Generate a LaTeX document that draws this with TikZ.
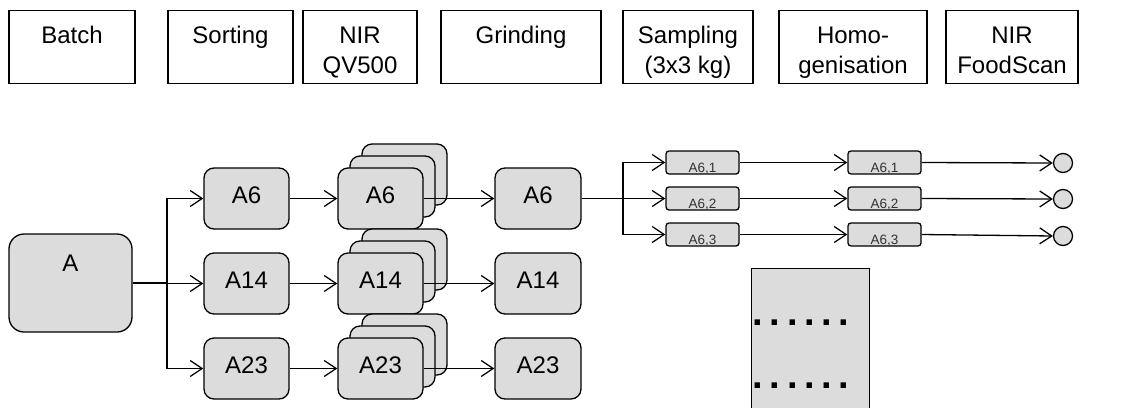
\documentclass[tikz,border=0pt]{standalone}
\usepackage{fontspec}
\setmainfont{Liberation Sans}
\usetikzlibrary{arrows.meta,calc}
\definecolor{boxgray}{HTML}{DCDCDC}
% top-aligned lines for the step headers
\newcommand{\steplines}[1]{\begin{tabular}[t]{@{}c@{}}#1\end{tabular}}

\begin{document}
\begin{tikzpicture}[x=1pt,y=-1pt,line width=1.3pt,
  >={Straight Barb[length=12pt,width=16pt]},
  hdr/.style={draw,fill=white,line width=1.4pt,inner xsep=0pt,inner ysep=6pt,
    text height=27pt,text depth=34pt,anchor=north,
    font=\fontsize{24}{30}\selectfont},
  lot/.style={draw,fill=boxgray,rounded corners=10pt,inner sep=0pt,
    minimum width=85pt,text height=35pt,text depth=26pt,
    font=\fontsize{24}{29}\selectfont},
  sub/.style={draw,fill=boxgray,rounded corners=3pt,inner sep=0pt,
    minimum width=73pt,text height=21pt,text depth=2pt,
    font=\fontsize{13.5}{15}\selectfont,text=black!80},
  tip/.style={draw,fill=boxgray,circle,inner sep=0pt,minimum size=19pt},
  dotrow/.style={anchor=base west,inner sep=0pt,
    font=\fontsize{38}{46}\bfseries\addfontfeature{LetterSpace=17.5}}]
  \useasboundingbox (0,0) rectangle (1131,407);
  % process steps
  \node[hdr,minimum width=126pt] (batch) at (72,10) {\steplines{Batch}};
  \node[hdr,minimum width=125pt] (sort) at (230.5,10) {\steplines{Sorting}};
  \node[hdr,minimum width=114pt] (qv) at (360,10) {\steplines{NIR\\QV500}};
  \node[hdr,minimum width=160pt] (grind) at (521,10) {\steplines{Grinding}};
  \node[hdr,minimum width=130pt] (samp) at (688,10) {\steplines{Sampling\\(3x3 kg)}};
  \node[hdr,minimum width=148pt] (homo) at (853,10) {\steplines{Homo-\\genisation}};
  \node[hdr,minimum width=132pt] (fs) at (1012,10) {\steplines{NIR\\FoodScan}};
  % batch and its lots
  \node[lot,minimum width=123pt,rounded corners=15pt,text height=37pt,text depth=61pt] (A) at (70.5,283) {A};
  \coordinate (fork) at (167,283);
  \draw (A.east) -- (fork);
  \foreach \r/\y in {6/198.5,14/283.5,23/368.5}{
    \node[lot] (s\r) at (246.5,\y) {A\r};
    % stacked scans
    \node[lot] (q\r b) at (404.5,\y-24) {};
    \node[lot] (q\r a) at (392.5,\y-12) {};
    \node[lot] (q\r) at (380.5,\y) {A\r};
    \node[lot,minimum width=86pt] (g\r) at (538,\y) {A\r};
    \draw[->] (fork) |- (s\r.west);
    \draw[->] (s\r.east) -- (q\r.west);
    \draw[->] (q\r.east) -- (g\r.west);
  }
  % sub-samples of A6
  \coordinate (fork2) at (623,198.5);
  \draw (g6.east) -- (fork2);
  \foreach \k/\y/\z in {1/162.5/163,2/198.5/199,3/234.5/236}{
    \node[sub] (p\k) at (702.5,\y) {A6,\k};
    \node[sub] (h\k) at (884.5,\y) {A6,\k};
    \node[tip] (o\k) at (1063,\z) {};
    \draw[->] (fork2) |- (p\k.west);
    \draw[->] (p\k.east) -- (h\k.west);
    \draw[->] (h\k.east) -- (o\k.west);
  }
  % remaining lots
  \node[draw,fill=boxgray,anchor=north west,inner sep=0pt,minimum width=118pt,minimum height=150pt] (more) at (751,268) {};
  \node[dotrow] (dots1) at (752,325) {......};
  \node[dotrow] (dots2) at (752,388) {......};
\end{tikzpicture}
\end{document}
